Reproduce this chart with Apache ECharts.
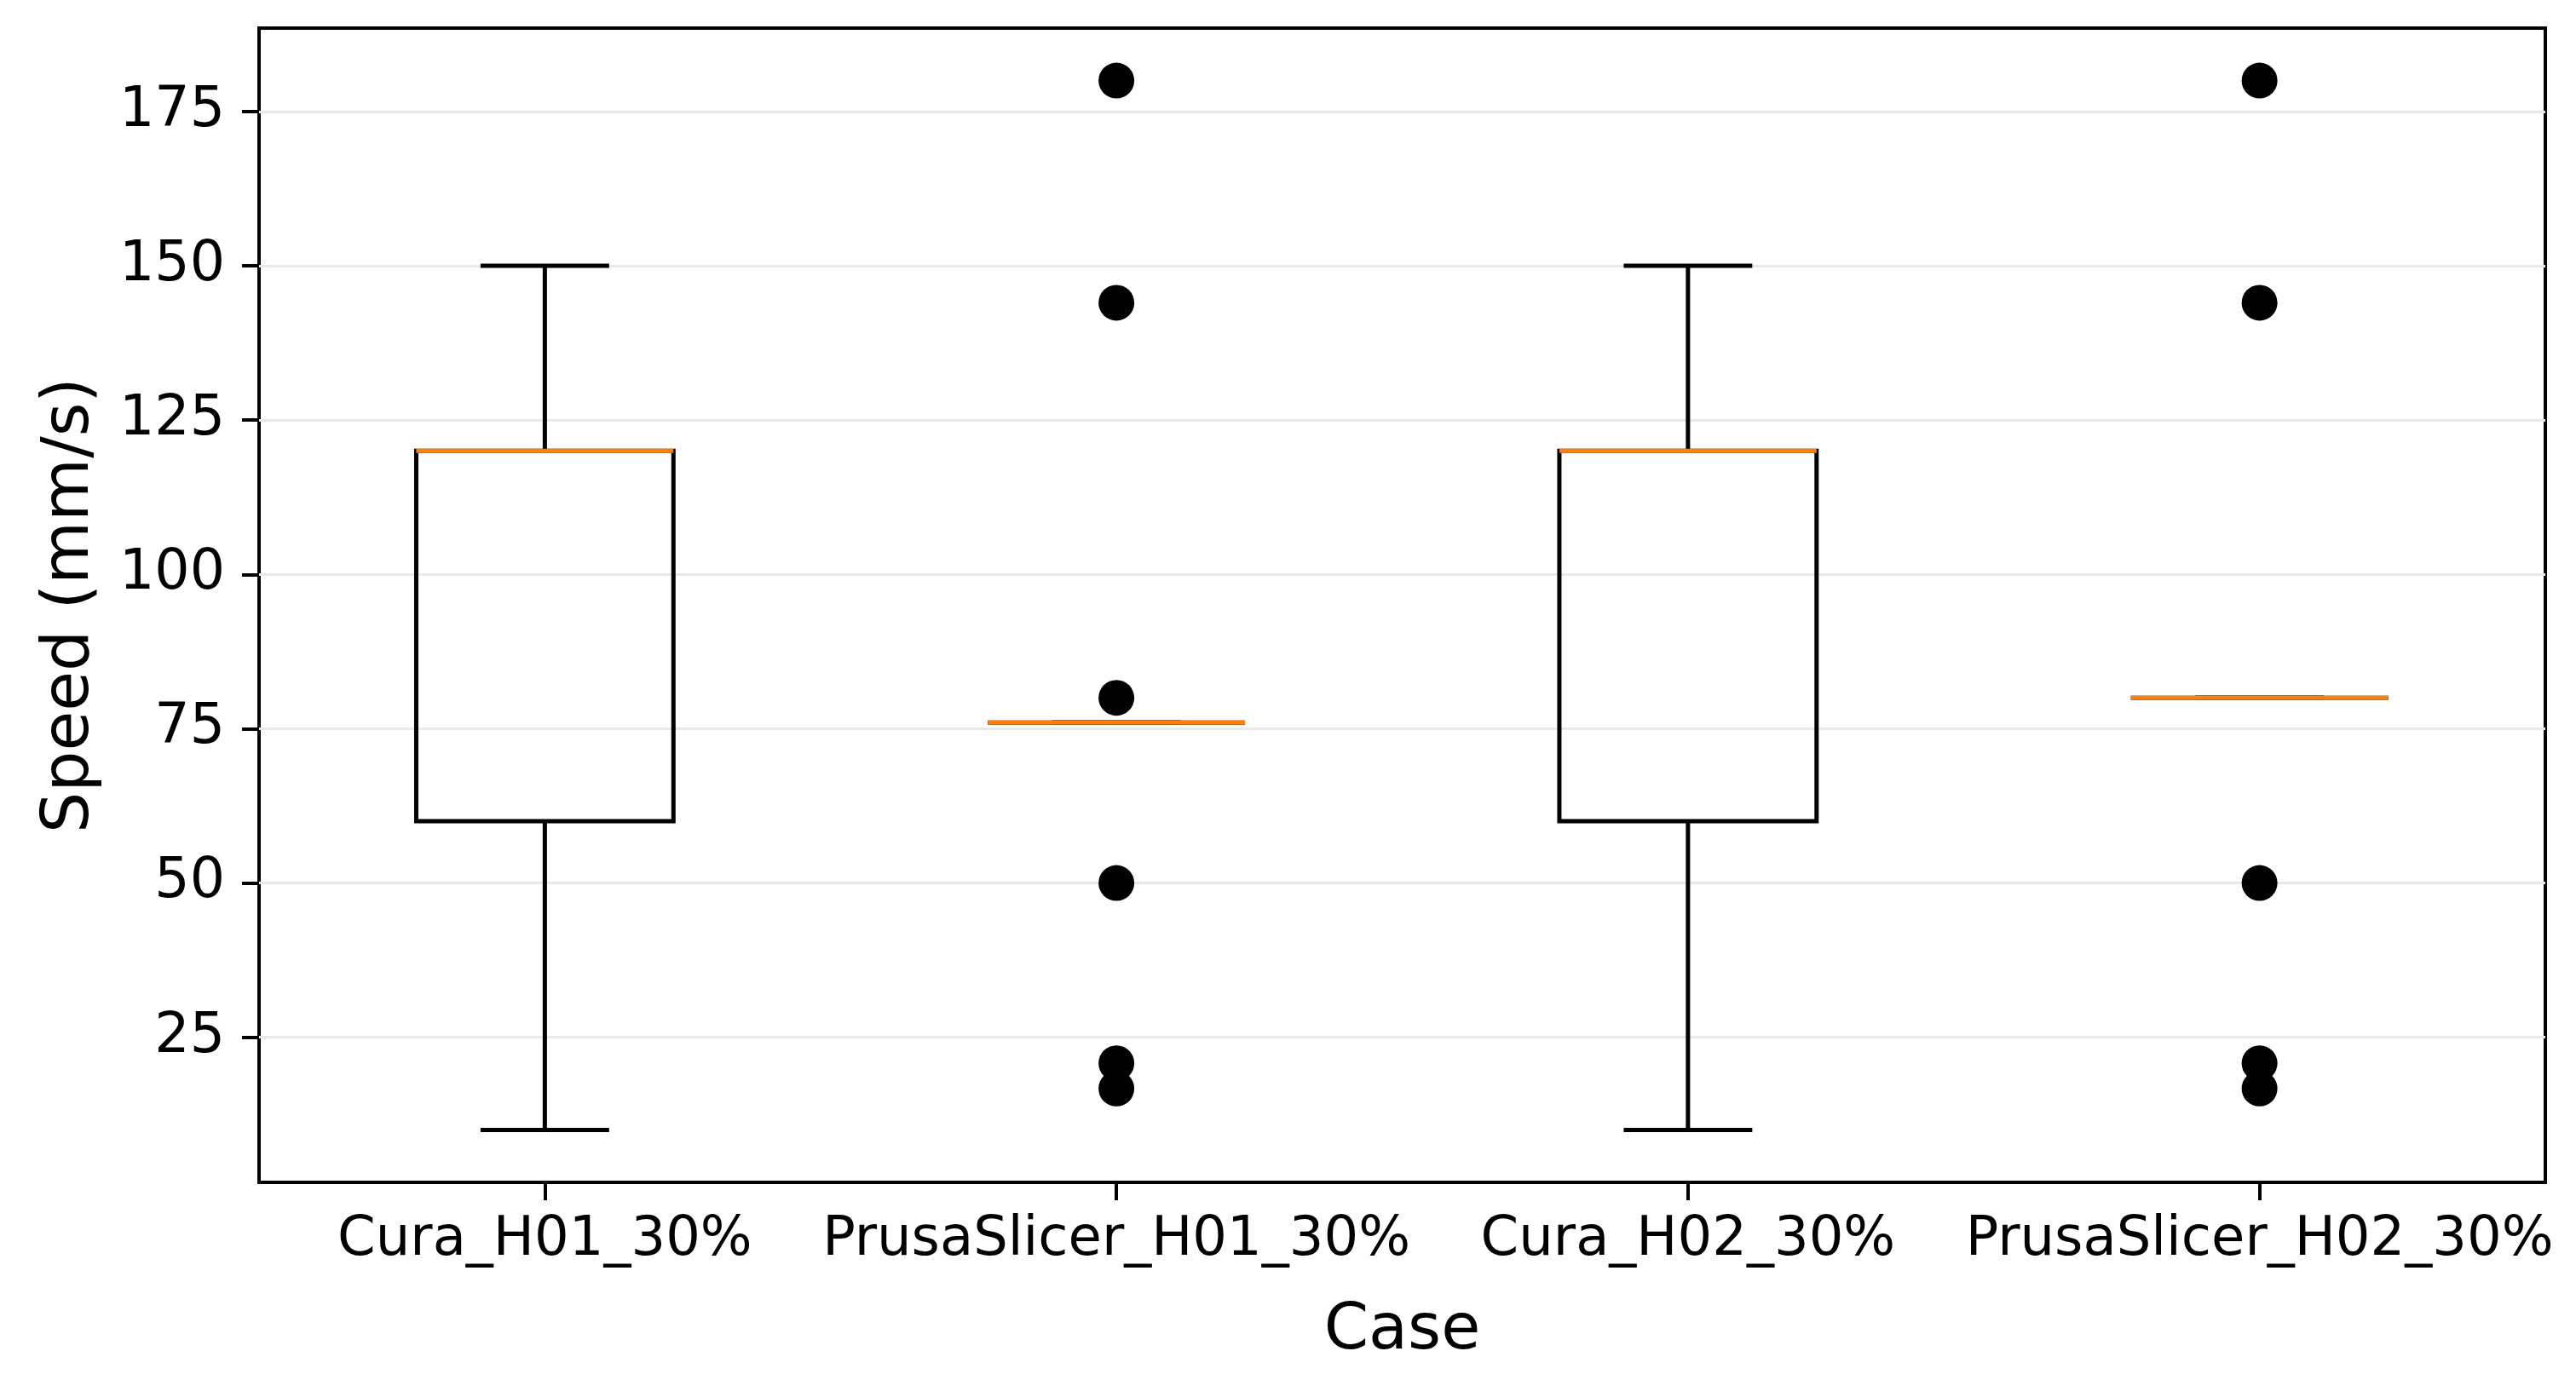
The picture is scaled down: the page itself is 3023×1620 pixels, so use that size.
<!DOCTYPE html>
<html>
<head>
<meta charset="utf-8">
<title>Speed by case</title>
<script src="https://cdn.jsdelivr.net/npm/echarts@6/dist/echarts.min.js"></script>
<style>
    html, body { margin: 0; padding: 0; background: #fff; }
    #chart { width: 3023px; height: 1620px; }
</style>
</head>
<body>
<div id="chart"></div>
<script>
var cases = ['Cura_H01_30%', 'PrusaSlicer_H01_30%', 'Cura_H02_30%', 'PrusaSlicer_H02_30%'];
// box statistics per case
var whiskerLow = [10, 76, 10, 80];
var q1 = [60, 76, 60, 80];
var median = [120, 76, 120, 80];
var q3 = [120, 76, 120, 80];
var whiskerHigh = [150, 76, 150, 80];
// fliers per case
var outliers = [
    [],
    [180, 144, 80, 50, 20.8, 16.7],
    [],
    [180, 144, 50, 20.8, 16.7]
];
var yTicks = [25, 50, 75, 100, 125, 150, 175];

var boxData = cases.map(function (c, i) {
    return [i, whiskerLow[i], q1[i], median[i], q3[i], whiskerHigh[i]];
});
var flierData = [];
outliers.forEach(function (list, i) {
    list.forEach(function (v) { flierData.push([i, v]); });
});

function seg(x1, y1, x2, y2, color) {
    return {
        type: 'line',
        shape: { x1: x1, y1: y1, x2: x2, y2: y2 },
        style: { stroke: color || '#000', lineWidth: 5 }
    };
}

function renderBox(params, api) {
    var i = api.value(0);
    var band = api.size([1, 0])[0];
    var half = band * 0.45 / 2;
    var capHalf = half / 2;
    var x = api.coord([i, api.value(3)])[0];
    var yLow = api.coord([i, api.value(1)])[1];
    var yQ1 = api.coord([i, api.value(2)])[1];
    var yMed = api.coord([i, api.value(3)])[1];
    var yQ3 = api.coord([i, api.value(4)])[1];
    var yHigh = api.coord([i, api.value(5)])[1];
    return {
        type: 'group',
        children: [
            {
                type: 'polygon',
                shape: { points: [[x - half, yQ1], [x + half, yQ1], [x + half, yQ3], [x - half, yQ3]] },
                style: { fill: 'none', stroke: '#000', lineWidth: 5 }
            },
            seg(x, yQ1, x, yLow),
            seg(x, yQ3, x, yHigh),
            seg(x - capHalf, yLow, x + capHalf, yLow),
            seg(x - capHalf, yHigh, x + capHalf, yHigh),
            seg(x - half, yMed, x + half, yMed, '#ff7f0e')
        ]
    };
}

var font = 'DejaVu Sans';
var chart = echarts.init(document.getElementById('chart'));
var option = {
    backgroundColor: '#fff',
    animation: false,
    grid: {
        left: 304,
        right: 36,
        top: 33,
        bottom: 232,
        show: true,
        borderColor: '#000',
        borderWidth: 4,
        outerBoundsMode: 'none'
    },
    xAxis: {
        type: 'category',
        data: cases,
        name: 'Case',
        nameLocation: 'middle',
        nameGap: 138,
        nameTextStyle: { fontFamily: font, fontSize: 75, color: '#000' },
        axisLine: { show: false },
        axisTick: { show: true, alignWithLabel: true, length: 21, lineStyle: { color: '#000', width: 4 } },
        axisLabel: { interval: 0, margin: 36, fontFamily: font, fontSize: 64, color: '#000' },
        splitLine: { show: false }
    },
    yAxis: {
        type: 'value',
        min: 1.5,
        max: 188.5,
        name: 'Speed (mm/s)',
        nameLocation: 'middle',
        nameGap: 183,
        nameRotate: 90,
        nameTextStyle: { fontFamily: font, fontSize: 76, color: '#000' },
        axisLine: { show: false },
        axisTick: { show: true, customValues: yTicks, length: 20, lineStyle: { color: '#000', width: 4 } },
        axisLabel: { customValues: yTicks, margin: 40, fontFamily: font, fontSize: 65, color: '#000' },
        splitLine: { show: true, lineStyle: { color: '#e8e8e8', width: 3 } }
    },
    series: [
        {
            type: 'custom',
            renderItem: renderBox,
            encode: { x: 0, y: [1, 2, 3, 4, 5] },
            data: boxData,
            z: 3
        },
        {
            type: 'scatter',
            symbol: 'circle',
            symbolSize: 42,
            itemStyle: { color: '#000', opacity: 1 },
            data: flierData,
            z: 4
        }
    ]
};
chart.setOption(option);
</script>
</body>
</html>
